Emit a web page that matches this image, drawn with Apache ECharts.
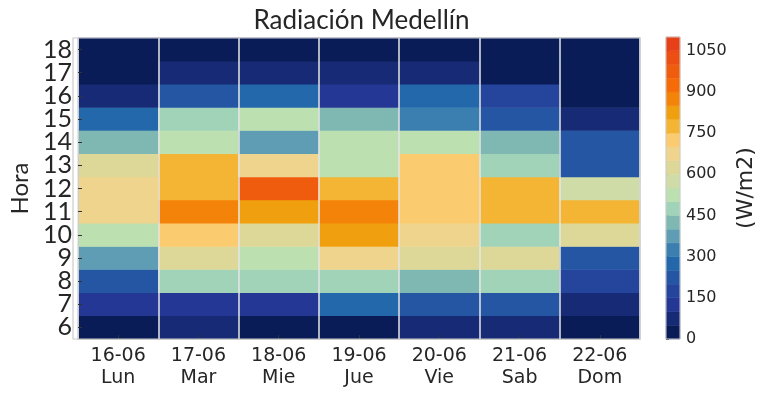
<!DOCTYPE html>
<html>
<head>
<meta charset="utf-8">
<script src="https://cdn.jsdelivr.net/npm/echarts@6/dist/echarts.min.js"></script>
<style>html,body{margin:0;padding:0;background:#fff}#c{width:767px;height:395px}</style>
</head>
<body>
<div id="c"></div>
<script>
// ---- data ----
const hours = ['6','7','8','9','10','11','12','13','14','15','16','17','18'];
const dates = ['16-06','17-06','18-06','19-06','20-06','21-06','22-06'];
const weekdays = ['Lun','Mar','Mie','Jue','Vie','Sab','Dom'];
// values per day, hours 6..18 (W/m2)
const lun = [30, 130, 230, 380, 530, 670, 680, 620, 430, 270, 80, 40, 10];
const mar = [60, 140, 470, 610, 730, 870, 780, 770, 520, 480, 220, 70, 20];
const mie = [25, 120, 490, 510, 630, 830, 970, 660, 390, 540, 280, 65, 15];
const jue = [35, 260, 480, 670, 820, 880, 760, 520, 530, 420, 140, 75, 15];
const vie = [90, 240, 410, 620, 660, 730, 740, 720, 510, 330, 290, 80, 20];
const sab = [85, 220, 460, 640, 470, 780, 790, 460, 440, 210, 180, 45, 10];
const dom = [20, 55, 170, 215, 610, 760, 580, 230, 240, 95, 40, 10, 5];
const dayValues = [lun, mar, mie, jue, vie, sab, dom];
// colour scale: 22 levels of 50 W/m2 from 0 to 1100
const levelStep = 50;
const levelColors = ['#091c57','#162a75','#253795','#25459c','#2456a4','#2268ab','#3b7fb0','#5e9db3','#7fb8b2','#a1d3b8','#bde0b0',
                     '#cfdca8','#ddd898','#efd48e','#fbcb70','#f4b535','#f09f0e','#f4830a','#f46b08','#f05c0e','#ec4e13','#e73f17'];
const cbarTicks = [0,150,300,450,600,750,900,1050];

// ---- build ----
const heat = [];
dayValues.forEach((arr, d) => arr.forEach((v, h) => heat.push([d, h, v])));
const pieces = levelColors.map((c, i) => ({gte: i*levelStep, lt: (i+1)*levelStep, color: c}));
const bands = levelColors.map((c, i) => [0, i*levelStep, (i+1)*levelStep, i]);
const cmax = levelColors.length * levelStep;
const txt = '#262626';
const G = {left: 73, top: 38, width: 567, height: 301};

const chart = echarts.init(document.getElementById('c'), null, {renderer: 'canvas'});
chart.setOption({
  animation: false,
  title: {
    text: 'Radiación Medellín', left: 356.5, textAlign: 'center', top: 3,
    textStyle: {fontFamily: 'Lato', fontSize: 26, fontWeight: 'normal', color: txt}
  },
  grid: [
    {left: G.left, top: G.top, width: G.width, height: G.height},
    {left: 666, width: 14, top: 37, height: 302}
  ],
  xAxis: [
    {
      type: 'category', gridIndex: 0, data: dates.map((d, i) => d + '\n' + weekdays[i]), z: 10,
      axisLine: {show: true, lineStyle: {color: '#cccccc', width: 1}},
      axisTick: {show: true, inside: true, length: 4, alignWithLabel: true, lineStyle: {color: '#333'}},
      axisLabel: {fontFamily: 'DejaVu Sans', fontSize: 19, color: txt, lineHeight: 22, margin: 6, interval: 0},
      splitLine: {show: true, interval: 0, lineStyle: {color: '#e6e6e6', width: 1.5}}
    },
    {type: 'value', gridIndex: 1, min: 0, max: 1, show: false}
  ],
  yAxis: [
    {
      type: 'category', gridIndex: 0, data: hours, z: 10,
      name: 'Hora', nameLocation: 'middle', nameRotate: 90, nameGap: 46,
      nameTextStyle: {fontFamily: 'Lato', fontSize: 24, color: txt},
      axisLine: {show: true, lineStyle: {color: '#cccccc'}},
      axisTick: {show: true, inside: true, length: 4, alignWithLabel: true, lineStyle: {color: '#333'}},
      axisLabel: {fontFamily: 'Lato', fontSize: 25, color: txt, margin: 6, interval: 0, lineHeight: 23},
      splitLine: {show: false}
    },
    {
      type: 'value', gridIndex: 1, min: 0, max: cmax, interval: 150, position: 'right',
      name: '(W/m2)', nameLocation: 'middle', nameRotate: 90, nameGap: 55,
      nameTextStyle: {fontFamily: 'DejaVu Sans', fontSize: 22, color: txt},
      axisLine: {show: false},
      axisTick: {show: true, length: 3, lineStyle: {color: '#333'}},
      axisLabel: {fontFamily: 'DejaVu Sans', fontSize: 16, color: txt, margin: 6,
        formatter: v => cbarTicks.indexOf(v) >= 0 ? String(v) : ''},
      splitLine: {show: false}
    }
  ],
  visualMap: {type: 'piecewise', show: false, seriesIndex: 0, dimension: 2, pieces: pieces},
  series: [
    {
      type: 'heatmap', xAxisIndex: 0, yAxisIndex: 0, data: heat,
      itemStyle: {borderWidth: 0}, emphasis: {disabled: true}
    },
    {
      type: 'custom', xAxisIndex: 1, yAxisIndex: 1, data: bands, silent: true,
      renderItem: function (params, api) {
        const lo = api.value(1), hi = api.value(2), idx = api.value(3);
        const pTop = api.coord([0, hi]);
        const pBot = api.coord([1, lo]);
        return {
          type: 'rect',
          shape: {x: pTop[0], y: pTop[1], width: pBot[0] - pTop[0], height: pBot[1] - pTop[1]},
          style: {fill: levelColors[idx], stroke: levelColors[idx], lineWidth: 0.5}
        };
      }
    }
  ]
});
// frames around plot and colorbar
const tl = chart.convertToPixel({xAxisIndex: 1, yAxisIndex: 1}, [0, cmax]);
const br = chart.convertToPixel({xAxisIndex: 1, yAxisIndex: 1}, [1, 0]);
chart.setOption({graphic: [
  {type: 'rect', z: 100, shape: {x: tl[0], y: tl[1], width: br[0]-tl[0], height: br[1]-tl[1]},
    style: {fill: 'none', stroke: '#cccccc', lineWidth: 1}},
  {type: 'rect', z: 100, shape: {x: G.left, y: G.top, width: G.width, height: G.height},
    style: {fill: 'none', stroke: '#cccccc', lineWidth: 1.2}}
]});
</script>
</body>
</html>
